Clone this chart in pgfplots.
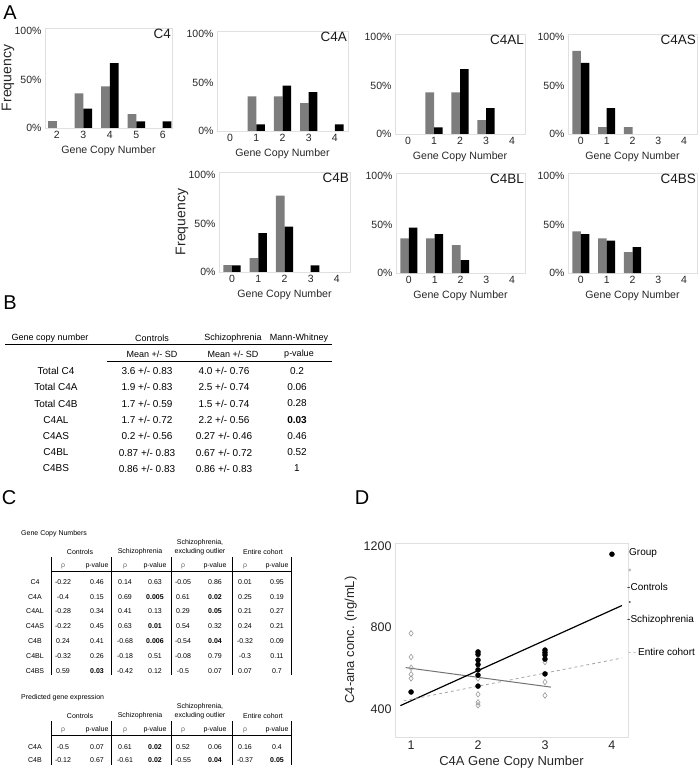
\documentclass[border=0pt]{standalone}
\usepackage{pgfplots}
\pgfplotsset{compat=1.18}
\usepackage{fontspec}
\setmainfont{Liberation Sans}
\newfontfamily\dejavu{DejaVu Sans}
\definecolor{barg}{RGB}{125,125,125}
\pgfplotsset{
 freqax/.style={
  scale only axis, height=100pt, anchor=north west,
  ymin=0, ymax=1.03, ytick={0,0.5,1}, yticklabels={0\%,50\%,100\%},
  axis line style={black!12, line width=0.8pt},
  major tick length=0pt,
  tick label style={font=\fontsize{10.5}{12}\selectfont, text=black!85},
  xlabel={Gene Copy Number},
  xlabel style={font=\fontsize{10.6}{12}\selectfont, text=black!85},
  ylabel style={font=\fontsize{14}{16}\selectfont, text=black!85,
     at={([xshift=-37pt]rel axis cs:0,0.5)}, anchor=center},
  ybar, bar width=0.33, clip=false,
 },
 ax04/.style={xmin=-0.5, xmax=4.5, xtick={0,1,2,3,4}, xticklabels={0,1,2,3,4}},
 gbar/.style={fill=barg, draw=none, bar shift=-0.165},
 kbar/.style={fill=black, draw=none, bar shift=0.165},
}
\newcommand{\pmx}{+/-}
\tikzset{tb/.style={font=\fontsize{10}{12}\selectfont, inner sep=0pt},
 th/.style={font=\fontsize{9}{11}\selectfont, inner sep=0pt},
 tc/.style={font=\fontsize{7}{8}\selectfont, inner sep=0pt},
 letter/.style={font=\fontsize{20}{22}\selectfont, inner sep=0pt},
 ttl/.style={anchor=north east, font=\fontsize{13.5}{15}\selectfont, inner sep=1pt, text=black!90}}
\newcommand{\rowB}[5]{%
 \node[tb] at (56,#1) {#2};
 \node[tb] at (147,#1) {#3};
 \node[tb] at (224,#1) {#4};
 \node[tb] at (297,#1) {#5};}
\newcommand{\rowC}[3]{%
 \node[tc] at (35,#1) {#2};
 \foreach \v [count=\i from 0] in {#3} {
   \pgfmathsetmacro{\cx}{{63,97,125,155,183,215,245,277}[\i]}
   \node[tc] at (\cx,#1) {\v};
 }}
\newcommand{\headC}[2]{%
 \node[tc] at (200,#1-9) {Schizophrenia,};
 \node[tc] at (200,#1) {excluding outlier};
 \node[tc] at (80,#1) {Controls};
 \node[tc] at (140,#1) {Schizophrenia};
 \node[tc] at (263,#1) {Entire cohort};
 \foreach \xx in {51,111,171,232,291} {\draw[line width=1pt] (\xx,#1+5) -- (\xx,#2);}
 \foreach \xx in {63,125,183,245} {\node[tc, text=black!60] at (\xx,#1+14) {ρ};}
 \foreach \xx in {97,155,215,277} {\node[tc] at (\xx,#1+14) {p-value};}
 \draw[line width=0.7pt] (51,#1+19) -- (291,#1+19);}
\begin{document}
\begin{tikzpicture}
\path[use as bounding box] (0pt,0pt) rectangle (698pt,-770pt);

% ---------- Panel A ----------
\begin{axis}[freqax, at={(45pt,-28pt)}, width=127pt, xmin=1.55, xmax=6.35,
  xtick={2,3,4,5,6}, xticklabels={2,3,4,5,6}, ylabel={Frequency}]
\addplot[gbar] coordinates {(2,0.071) (3,0.357) (4,0.429) (5,0.143)};
\addplot[kbar] coordinates {(3,0.2) (4,0.667) (5,0.067) (6,0.067)};
\node[ttl] at (rel axis cs:1,1) {C4};
\end{axis}

\begin{axis}[freqax, ax04, at={(217pt,-31pt)}, width=131pt]
\addplot[gbar] coordinates {(1,0.357) (2,0.357) (3,0.286)};
\addplot[kbar] coordinates {(1,0.067) (2,0.467) (3,0.4) (4,0.067)};
\node[ttl] at (rel axis cs:1,1) {C4A};
\end{axis}

\begin{axis}[freqax, ax04, at={(395pt,-34pt)}, width=130pt]
\addplot[gbar] coordinates {(1,0.429) (2,0.429) (3,0.143)};
\addplot[kbar] coordinates {(1,0.067) (2,0.667) (3,0.267)};
\node[ttl] at (rel axis cs:1,1) {C4AL};
\end{axis}

\begin{axis}[freqax, ax04, at={(568pt,-34pt)}, width=129pt]
\addplot[gbar] coordinates {(0,0.857) (1,0.071) (2,0.071)};
\addplot[kbar] coordinates {(0,0.733) (1,0.267)};
\node[ttl] at (rel axis cs:1,1) {C4AS};
\end{axis}

\begin{axis}[freqax, ax04, at={(219pt,-172pt)}, width=131pt, ylabel={Frequency}]
\addplot[gbar] coordinates {(0,0.071) (1,0.143) (2,0.786)};
\addplot[kbar] coordinates {(0,0.067) (1,0.4) (2,0.467) (3,0.067)};
\node[ttl] at (rel axis cs:1,1) {C4B};
\end{axis}

\begin{axis}[freqax, ax04, at={(396pt,-173pt)}, width=129pt]
\addplot[gbar] coordinates {(0,0.357) (1,0.357) (2,0.286)};
\addplot[kbar] coordinates {(0,0.467) (1,0.4) (2,0.133)};
\node[ttl] at (rel axis cs:1,1) {C4BL};
\end{axis}

\begin{axis}[freqax, ax04, at={(568pt,-173pt)}, width=129pt]
\addplot[gbar] coordinates {(0,0.429) (1,0.357) (2,0.214)};
\addplot[kbar] coordinates {(0,0.4) (1,0.333) (2,0.267)};
\node[ttl] at (rel axis cs:1,1) {C4BS};
\end{axis}

% ---------- Panel D ----------
\begin{axis}[at={(395pt,-543pt)}, anchor=north west, scale only axis,
  width=233pt, height=194pt, xmin=0.76, xmax=4.24, ymin=262, ymax=1215,
  xtick={1,2,3,4}, xticklabels={1,2,3,4},
  ytick={400,800,1200}, yticklabels={400,800,1200},
  axis line style={black!12, line width=0.8pt}, major tick length=0pt,
  tick label style={font=\fontsize{12.5}{14}\selectfont, text=black!85},
  xlabel={C4A Gene Copy Number}, ylabel={C4-ana conc. (ng/mL)},
  label style={font=\fontsize{13}{15}\selectfont, text=black!85},
  clip=false]
\addplot[only marks, mark=diamond, mark size=2.8pt, black!40, mark options={line width=0.6pt}] coordinates {
 (1,771) (1,655) (1,602) (1,570) (1,550)
 (2,550) (2,472) (2,432) (2,418)
 (3,630) (3,532) (3,466)};
\addplot[only marks, mark=*, mark size=2.5pt, black] coordinates {
 (1,483)
 (2,680) (2,668) (2,640) (2,618) (2,592) (2,566) (2,512)
 (3,689) (3,677) (3,665) (3,645) (3,572)
 (4,1160)};
\addplot[black!55, line width=1pt] coordinates {(0.92,603) (3.09,507)};
\addplot[black, line width=1.2pt] coordinates {(0.84,416) (4.15,908)};
\addplot[black!35, dashed, line width=0.8pt] coordinates {(0.89,440) (4.15,650)};
\end{axis}

\begin{scope}[x=1pt,y=-1pt]
% panel letters
\node[letter] at (10,13) {A};
\node[letter] at (10,303) {B};
\node[letter] at (9,498) {C};
\node[letter] at (362,498) {D};

% ---------- Panel B table ----------
\node[th] at (50,338) {Gene copy number};
\node[th] at (152,338) {Controls};
\node[th] at (233,338) {Schizophrenia};
\node[th] at (299,338) {Mann-Whitney};
\draw[line width=0.9pt] (5,344) -- (332,344);
\node[th] at (152,354) {Mean \pmx{} SD};
\node[th] at (233,354) {Mean \pmx{} SD};
\node[th] at (299,354) {p-value};
\draw[line width=0.9pt] (107,361) -- (332,361);
\rowB{371}{Total C4}{3.6 \pmx{} 0.83}{4.0 \pmx{} 0.76}{0.2}
\rowB{387}{Total C4A}{1.9 \pmx{} 0.83}{2.5 \pmx{} 0.74}{0.06}
\rowB{403.5}{Total C4B}{1.7 \pmx{} 0.59}{1.5 \pmx{} 0.74}{0.28}
\rowB{420}{C4AL}{1.7 \pmx{} 0.72}{2.2 \pmx{} 0.56}{\textbf{0.03}}
\rowB{436}{C4AS}{0.2 \pmx{} 0.56}{0.27 \pmx{} 0.46}{0.46}
\rowB{452.5}{C4BL}{0.87 \pmx{} 0.83}{0.67 \pmx{} 0.72}{0.52}
\rowB{468.5}{C4BS}{0.86 \pmx{} 0.83}{0.86 \pmx{} 0.83}{1}

% ---------- Panel C tables ----------
\node[tc, anchor=west] at (21,534) {Gene Copy Numbers};
\headC{552}{675}
\rowC{582}{C4}{-0.22,0.46,0.14,0.63,-0.05,0.86,0.01,0.95}
\rowC{597}{C4A}{-0.4,0.15,0.69,\textbf{0.005},0.61,\textbf{0.02},0.25,0.19}
\rowC{611.5}{C4AL}{-0.28,0.34,0.41,0.13,0.29,\textbf{0.05},0.21,0.27}
\rowC{626.5}{C4AS}{-0.22,0.45,0.63,\textbf{0.01},0.54,0.32,0.24,0.21}
\rowC{641.5}{C4B}{0.24,0.41,-0.68,\textbf{0.006},-0.54,\textbf{0.04},-0.32,0.09}
\rowC{656}{C4BL}{-0.32,0.26,-0.18,0.51,-0.08,0.79,-0.3,0.11}
\rowC{671}{C4BS}{0.59,\textbf{0.03},-0.42,0.12,-0.5,0.07,0.07,0.7}

\node[tc, anchor=west] at (21,698) {Predicted gene expression};
\headC{716}{765}
\rowC{747}{C4A}{-0.5,0.07,0.61,\textbf{0.02},0.52,0.06,0.16,0.4}
\rowC{760}{C4B}{-0.12,0.67,-0.61,\textbf{0.02},-0.55,\textbf{0.04},-0.37,\textbf{0.05}}

% ---------- Panel D legend ----------
\node[font=\fontsize{10}{12}\selectfont, anchor=west, inner sep=0pt] at (629,553) {Group};
\node[font=\dejavu\fontsize{4}{5}\selectfont, text=black!30, inner sep=0pt] at (630,570) {◆};
\node[font=\fontsize{10}{12}\selectfont, anchor=west, inner sep=0pt] at (627,587) {-Controls};
\node[font=\fontsize{6}{7}\selectfont, inner sep=0pt] at (630,603) {•};
\node[font=\fontsize{10}{12}\selectfont, anchor=west, inner sep=0pt] at (627,620) {-Schizophrenia};
\node[font=\fontsize{10}{12}\selectfont, anchor=west, inner sep=0pt] at (628,652) {{\color{black!30}-\,-}\,Entire cohort};
\end{scope}
\end{tikzpicture}
\end{document}
